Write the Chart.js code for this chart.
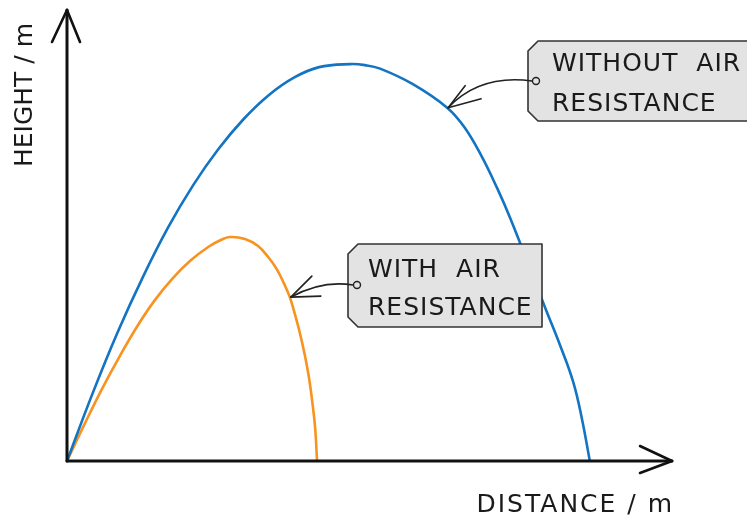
<!DOCTYPE html>
<html>
<head>
<meta charset="utf-8">
<script src="https://cdn.jsdelivr.net/npm/chart.js@4"></script>
<style>
  body { margin: 0; background: #fff; }
  #wrap { width: 747px; height: 515px; }
</style>
</head>
<body>
<div id="wrap"><canvas id="chart" width="747" height="515"></canvas></div>
<script>
// Projectile paths: distance (x) and height (y), arbitrary metres
const noAirX = [0, 0.5, 1.0, 1.5, 2.0, 2.5, 3.0, 3.5, 4.0, 4.5, 5.0, 5.62, 5.91, 6.21, 6.86, 7.54, 7.89, 8.23, 8.53, 8.79, 9.18, 9.48, 9.78, 10.04, 10.21, 10.37];
const noAirY = [0, 1.33, 2.56, 3.66, 4.65, 5.5, 6.22, 6.82, 7.3, 7.65, 7.86, 7.92, 7.9, 7.83, 7.52, 7.05, 6.65, 6.07, 5.45, 4.85, 3.85, 3.07, 2.31, 1.58, 0.86, 0];
const airX = [0, 0.35, 0.7, 1.05, 1.4, 1.75, 2.1, 2.45, 2.8, 3.05, 3.23, 3.53, 3.79, 3.99, 4.16, 4.3, 4.42, 4.52, 4.62, 4.72, 4.8, 4.86, 4.92, 4.96];
const airY = [0, 0.74, 1.45, 2.1, 2.7, 3.22, 3.65, 4.0, 4.27, 4.41, 4.47, 4.43, 4.29, 4.07, 3.83, 3.55, 3.27, 2.93, 2.55, 2.1, 1.66, 1.22, 0.68, 0];

const xTitle = 'DISTANCE / m';
const yTitle = 'HEIGHT / m';
const noAirTag = ['WITHOUT  AIR', 'RESISTANCE'];
const airTag = ['WITH  AIR', 'RESISTANCE'];
// index of the path point each tag arrow points at
const noAirTagPoint = 15;
const airTagPoint = 16;

const toPoints = (xs, ys) => xs.map((x, i) => ({ x, y: ys[i] }));

const INK = '#1a1a1a';
const FONT = '25px "DejaVu Sans", sans-serif';

function arrowLine(ctx, x1, y1, x2, y2, w) {
    ctx.beginPath();
    ctx.moveTo(x1, y1);
    ctx.lineTo(x2, y2);
    ctx.lineWidth = w;
    ctx.stroke();
}

function drawTag(ctx, left, top, right, bottom, lines, textX, baselines) {
    const cut = 10;
    ctx.beginPath();
    ctx.moveTo(left + cut, top);
    ctx.lineTo(right, top);
    ctx.lineTo(right, bottom);
    ctx.lineTo(left + cut, bottom);
    ctx.lineTo(left, bottom - cut);
    ctx.lineTo(left, top + cut);
    ctx.closePath();
    ctx.fillStyle = '#e3e3e3';
    ctx.fill();
    ctx.strokeStyle = '#333';
    ctx.lineWidth = 1.6;
    ctx.stroke();

    ctx.fillStyle = INK;
    ctx.font = FONT;
    ctx.textAlign = 'left';
    ctx.textBaseline = 'alphabetic';
    ctx.letterSpacing = '1px';
    lines.forEach((t, i) => ctx.fillText(t, textX, baselines[i]));
    ctx.letterSpacing = '0px';
}

// curved pointer from the tag hole to a point on the path
function drawPointer(ctx, hole, ctrl, tip, barbA, barbB) {
    ctx.strokeStyle = '#222';
    ctx.lineCap = 'round';
    ctx.beginPath();
    ctx.moveTo(hole.x - 4, hole.y);
    ctx.quadraticCurveTo(ctrl.x, ctrl.y, tip.x, tip.y);
    ctx.lineWidth = 1.6;
    ctx.stroke();
    arrowLine(ctx, tip.x, tip.y, tip.x + barbA[0], tip.y + barbA[1], 1.6);
    arrowLine(ctx, tip.x, tip.y, tip.x + barbB[0], tip.y + barbB[1], 1.6);

    ctx.beginPath();
    ctx.arc(hole.x, hole.y, 3.5, 0, Math.PI * 2);
    ctx.fillStyle = '#e3e3e3';
    ctx.fill();
    ctx.lineWidth = 1.4;
    ctx.stroke();
}

const sketchAxes = {
    id: 'sketchAxes',
    afterDatasetsDraw(chart) {
        const { ctx, chartArea: a, scales: { x, y } } = chart;
        ctx.save();
        ctx.strokeStyle = '#111';
        ctx.lineCap = 'round';
        ctx.lineJoin = 'round';

        // axes with open arrowheads
        arrowLine(ctx, a.left, a.bottom, a.left, a.top, 3);
        arrowLine(ctx, a.left, a.bottom, a.right, a.bottom, 3);
        arrowLine(ctx, a.left, a.top, a.left - 15, a.top + 32, 2.6);
        arrowLine(ctx, a.left, a.top, a.left + 13, a.top + 32, 2.6);
        arrowLine(ctx, a.right, a.bottom, a.right - 32, a.bottom - 15, 2.6);
        arrowLine(ctx, a.right, a.bottom, a.right - 32, a.bottom + 12, 2.6);

        // axis titles
        ctx.fillStyle = INK;
        ctx.font = FONT;
        ctx.textAlign = 'right';
        ctx.textBaseline = 'alphabetic';
        ctx.letterSpacing = '2px';
        ctx.fillText(xTitle, a.right + 2, 512);
        ctx.letterSpacing = '0px';
        ctx.save();
        ctx.translate(32, 95);
        ctx.rotate(-Math.PI / 2);
        ctx.textAlign = 'center';
        ctx.fillText(yTitle, 0, 0);
        ctx.restore();

        // tags
        drawTag(ctx, 528, 41, 752, 121, noAirTag, 552, [71, 111]);
        drawTag(ctx, 348, 244, 542, 327, airTag, 368, [277, 315]);

        const t1 = {
            x: x.getPixelForValue(noAirX[noAirTagPoint]) + 1,
            y: y.getPixelForValue(noAirY[noAirTagPoint])
        };
        drawPointer(ctx, { x: 536, y: 81 }, { x: 480, y: 74 }, t1, [17, -22], [33, -9]);

        const t2 = {
            x: x.getPixelForValue(airX[airTagPoint]) + 1,
            y: y.getPixelForValue(airY[airTagPoint])
        };
        drawPointer(ctx, { x: 357, y: 285 }, { x: 322, y: 280 }, t2, [21, -21], [30, -1]);

        ctx.restore();
    }
};

const lineStyle = {
    borderWidth: 2.6,
    showLine: true,
    pointRadius: 0,
    tension: 0.4,
    clip: false
};

new Chart(document.getElementById('chart'), {
    type: 'scatter',
    data: {
        datasets: [
            { label: 'Without air resistance', data: toPoints(noAirX, noAirY), borderColor: '#1274c2', ...lineStyle },
            { label: 'With air resistance', data: toPoints(airX, airY), borderColor: '#f7931e', ...lineStyle }
        ]
    },
    options: {
        responsive: false,
        animation: false,
        layout: { padding: { left: 67, right: 75, top: 10, bottom: 54 } },
        scales: {
            x: { type: 'linear', min: 0, max: 12, display: false },
            y: { type: 'linear', min: 0, max: 9, display: false }
        },
        plugins: {
            legend: { display: false },
            tooltip: { enabled: false }
        }
    },
    plugins: [sketchAxes]
});
</script>
</body>
</html>
